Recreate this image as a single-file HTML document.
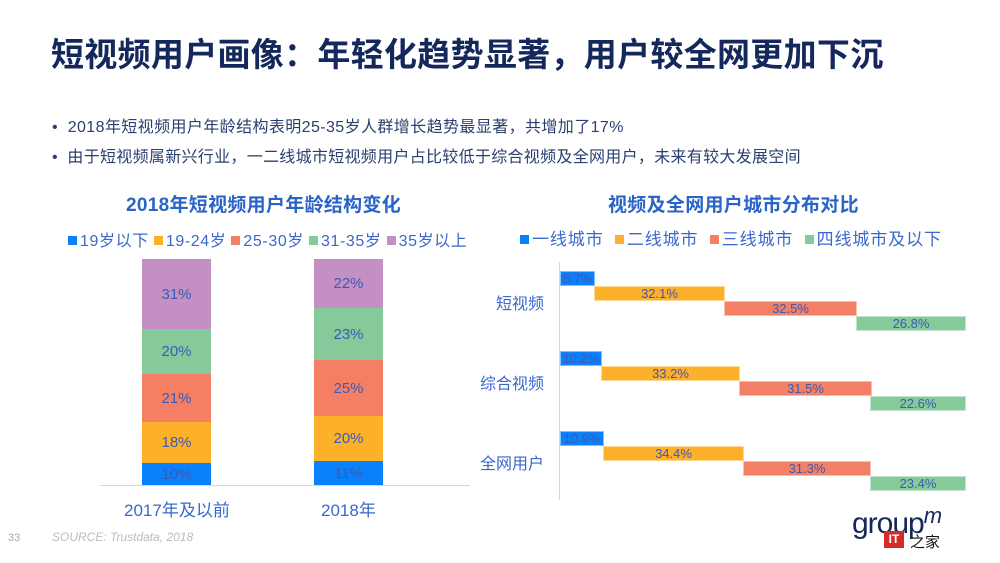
<!DOCTYPE html>
<html><head><meta charset="utf-8"><style>
body{margin:0;width:1000px;height:563px;background:#fff;position:relative;overflow:hidden;font-family:"Liberation Sans","Noto Sans CJK SC",sans-serif}
div{position:absolute;box-sizing:border-box}
.t{white-space:nowrap}
.b{display:flex;align-items:center;justify-content:center;color:#3a5bb5;font-size:15px}
.h{display:flex;align-items:center;justify-content:center;color:#3a5bb5;font-size:13px;border:1px solid rgba(255,255,255,.5)}
.lg{font-size:16px;color:#3a68cc}
.sq{display:inline-block;width:9px;height:9px;margin-right:3px;vertical-align:1px}
</style></head><body>
<div class="t" style="left:51px;top:28px;font-size:33px;font-weight:bold;color:#14285c;letter-spacing:0.3px">短视频用户画像：年轻化趋势显著，用户较全网更加下沉</div>
<div class="t" style="left:52px;top:113px;font-size:16px;color:#2a3f6e;letter-spacing:0.4px">•&nbsp;&nbsp;2018年短视频用户年龄结构表明25-35岁人群增长趋势最显著，共增加了17%</div>
<div class="t" style="left:52px;top:143px;font-size:16px;color:#2a3f6e;letter-spacing:0.3px">•&nbsp;&nbsp;由于短视频属新兴行业，一二线城市短视频用户占比较低于综合视频及全网用户，未来有较大发展空间</div>

<div class="t" style="left:126px;top:190px;font-size:19px;font-weight:bold;color:#2a64c8;letter-spacing:0.3px">2018年短视频用户年龄结构变化</div>
<div class="t lg" style="left:68px;top:227px;letter-spacing:0.6px"><span class="sq" style="background:#0a80fb"></span>19岁以下 <span class="sq" style="background:#fdb02a"></span>19-24岁 <span class="sq" style="background:#f47f65"></span>25-30岁 <span class="sq" style="background:#87ca9a"></span>31-35岁 <span class="sq" style="background:#c48fc2"></span>35岁以上</div>

<div class="b" style="left:142px;top:259px;width:69px;height:70px;background:#c48fc2">31%</div>
<div class="b" style="left:142px;top:329px;width:69px;height:45px;background:#87ca9a">20%</div>
<div class="b" style="left:142px;top:374px;width:69px;height:48px;background:#f47f65">21%</div>
<div class="b" style="left:142px;top:422px;width:69px;height:41px;background:#fdb02a">18%</div>
<div class="b" style="left:142px;top:463px;width:69px;height:22px;background:#0a80fb">10%</div>
<div class="b" style="left:314px;top:259px;width:69px;height:49px;background:#c48fc2">22%</div>
<div class="b" style="left:314px;top:308px;width:69px;height:52px;background:#87ca9a">23%</div>
<div class="b" style="left:314px;top:360px;width:69px;height:56px;background:#f47f65">25%</div>
<div class="b" style="left:314px;top:416px;width:69px;height:45px;background:#fdb02a">20%</div>
<div class="b" style="left:314px;top:461px;width:69px;height:24px;background:#0a80fb">11%</div>
<div style="left:100px;top:485px;width:370px;height:1px;background:#c5d8f5"></div>
<div class="t" style="left:124px;top:496px;font-size:17px;color:#3a68cc">2017年及以前</div>
<div class="t" style="left:321px;top:496px;font-size:17px;color:#3a68cc">2018年</div>

<div class="t" style="left:608px;top:190px;font-size:19px;font-weight:bold;color:#2a64c8;letter-spacing:0.3px">视频及全网用户城市分布对比</div>
<div class="t lg" style="left:520px;top:225px;font-size:17px;letter-spacing:0.9px"><span class="sq" style="background:#0a80fb"></span>一线城市 &nbsp;<span class="sq" style="background:#fdb02a"></span>二线城市 &nbsp;<span class="sq" style="background:#f47f65"></span>三线城市 &nbsp;<span class="sq" style="background:#87ca9a"></span>四线城市及以下</div>
<div style="left:559px;top:262px;width:1px;height:238px;background:#c5d8f5"></div>
<div class="t" style="left:496px;top:290px;font-size:16px;color:#3a68cc">短视频</div>
<div class="t" style="left:480px;top:370px;font-size:16px;color:#3a68cc">综合视频</div>
<div class="t" style="left:480px;top:450px;font-size:16px;color:#3a68cc">全网用户</div>

<div class="h" style="left:560px;top:271px;width:35px;height:15px;background:#0a80fb">8.7%</div>
<div class="h" style="left:594px;top:286px;width:131px;height:15px;background:#fdb02a">32.1%</div>
<div class="h" style="left:724px;top:301px;width:133px;height:15px;background:#f47f65">32.5%</div>
<div class="h" style="left:856px;top:316px;width:110px;height:15px;background:#87ca9a">26.8%</div>

<div class="h" style="left:560px;top:351px;width:42px;height:15px;background:#0a80fb">10.2%</div>
<div class="h" style="left:601px;top:366px;width:139px;height:15px;background:#fdb02a">33.2%</div>
<div class="h" style="left:739px;top:381px;width:133px;height:15px;background:#f47f65">31.5%</div>
<div class="h" style="left:870px;top:396px;width:96px;height:15px;background:#87ca9a">22.6%</div>

<div class="h" style="left:560px;top:431px;width:44px;height:15px;background:#0a80fb">10.9%</div>
<div class="h" style="left:603px;top:446px;width:141px;height:15px;background:#fdb02a">34.4%</div>
<div class="h" style="left:743px;top:461px;width:128px;height:15px;background:#f47f65">31.3%</div>
<div class="h" style="left:870px;top:476px;width:96px;height:15px;background:#87ca9a">23.4%</div>

<div class="t" style="left:8px;top:532px;font-size:11px;color:#aaa">33</div>
<div class="t" style="left:52px;top:530px;font-size:12px;font-style:italic;color:#bbb">SOURCE: Trustdata, 2018</div>
<div class="t" style="left:852px;top:503px;font-size:30px;color:#16285a;letter-spacing:-1px">group<span style="font-size:22px;font-style:italic;vertical-align:10px">m</span></div>
<div style="left:884px;top:531px;width:20px;height:17px;background:#d42a2a;color:#fff;font-size:12px;font-weight:bold;text-align:center;line-height:17px">IT</div>
<div class="t" style="left:910px;top:531px;font-size:15px;color:#111">之家</div>
</body></html>
